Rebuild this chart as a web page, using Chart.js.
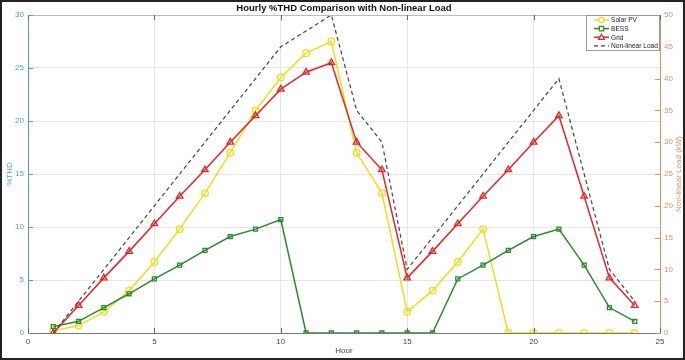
<!DOCTYPE html>
<html>
<head>
<meta charset="utf-8">
<script src="https://cdn.jsdelivr.net/npm/chart.js@4.4.1/dist/chart.umd.min.js"></script>
<style>
  html, body { margin: 0; padding: 0; background: #fff; }
  #wrap { width: 685px; height: 360px; }
</style>
</head>
<body>
<div id="wrap"><canvas id="thdChart" width="685" height="360"></canvas></div>
<script>
// hours 1..24
const hours = [1, 2, 3, 4, 5, 6, 7, 8, 9, 10, 11, 12, 13, 14, 15, 16, 17, 18, 19, 20, 21, 22, 23, 24];

// %THD per source (left axis)
const solarPV = [0.2, 0.7, 2.0, 4.0, 6.7, 9.8, 13.2, 17.0, 21.0, 24.1, 26.4, 27.5, 17.0, 13.2, 2.0, 4.0, 6.7, 9.8, 0, 0, 0, 0, 0, 0];
const bess    = [0.6, 1.1, 2.4, 3.7, 5.1, 6.4, 7.8, 9.1, 9.8, 10.7, 0, 0, 0, 0, 0, 0, 5.1, 6.4, 7.8, 9.1, 9.8, 6.4, 2.4, 1.1];
const grid    = [0, 2.6, 5.2, 7.7, 10.3, 12.9, 15.4, 18.0, 20.5, 23.0, 24.6, 25.5, 18.0, 15.4, 5.2, 7.7, 10.3, 12.9, 15.4, 18.0, 20.5, 12.9, 5.2, 2.6];

// non-linear load in kW (right axis)
const load = [0, 5, 10, 15, 20, 25, 30, 35, 40, 45, 47.5, 50, 35, 30, 10, 15, 20, 25, 30, 35, 40, 25, 10, 5];

const thdTicks = [0, 5, 10, 15, 20, 25, 30];
const loadTicks = [0, 5, 10, 15, 20, 25, 30, 35, 40, 45, 50];
const hourTicks = [0, 5, 10, 15, 20, 25];

const leftColor = '#4f9dc0';
const rightColor = '#d9925a';
const FONT = 'Liberation Sans, Arial, sans-serif';

const pts = arr => hours.map((h, i) => ({ x: h, y: arr[i] }));

const series = [
  { label: 'Solar PV', data: solarPV, color: '#f0dc1e', style: 'circle', r: 3.3 },
  { label: 'BESS', data: bess, color: '#2a8a2a', style: 'rect', r: 2.8 },
  { label: 'Grid', data: grid, color: '#e32626', style: 'triangle', r: 3.8 }
];

const datasets = series.map((s, i) => ({
  label: s.label,
  data: pts(s.data),
  yAxisID: 'y',
  borderColor: s.color,
  backgroundColor: s.color,
  borderWidth: 1.5,
  pointStyle: s.style,
  pointRadius: s.r,
  pointBorderWidth: 1.3,
  pointBorderColor: s.color,
  pointBackgroundColor: 'rgba(0,0,0,0)',
  order: 4 - i
}));
datasets.push({
  label: 'Non-linear Load',
  data: pts(load),
  yAxisID: 'y1',
  borderColor: '#444',
  borderWidth: 1.2,
  borderDash: [4, 3],
  pointRadius: 0,
  order: 0
});

// extras: frame, title, legend, right title, inward ticks
const decor = {
  id: 'decor',
  beforeDraw(chart) {
    const c = chart.ctx;
    c.save();
    c.fillStyle = '#fff';
    c.fillRect(0, 0, chart.width, chart.height);
    c.restore();
  },
  afterDraw(chart) {
    const c = chart.ctx;
    const a = chart.chartArea;
    const sx = chart.scales.x, sy = chart.scales.y, sy1 = chart.scales.y1;
    c.save();

    // top box line
    c.strokeStyle = '#bbb';
    c.lineWidth = 1;
    c.beginPath();
    c.moveTo(a.left, a.top + 0.5);
    c.lineTo(a.right, a.top + 0.5);
    c.stroke();

    // inward ticks
    c.strokeStyle = '#666';
    hourTicks.forEach(v => {
      const px = Math.round(sx.getPixelForValue(v)) + 0.5;
      c.beginPath();
      c.moveTo(px, a.bottom); c.lineTo(px, a.bottom - 5);
      c.moveTo(px, a.top); c.lineTo(px, a.top + 5);
      c.stroke();
    });
    c.strokeStyle = leftColor;
    thdTicks.forEach(v => {
      const py = Math.round(sy.getPixelForValue(v)) + 0.5;
      c.beginPath(); c.moveTo(a.left, py); c.lineTo(a.left + 5, py); c.stroke();
    });
    c.strokeStyle = rightColor;
    loadTicks.forEach(v => {
      const py = Math.round(sy1.getPixelForValue(v)) + 0.5;
      c.beginPath(); c.moveTo(a.right, py); c.lineTo(a.right - 5, py); c.stroke();
    });

    // title
    c.fillStyle = '#111';
    c.font = 'bold 9.5px ' + FONT;
    c.textAlign = 'center';
    c.textBaseline = 'middle';
    c.fillText('Hourly %THD Comparison with Non-linear Load', (a.left + a.right) / 2, 8);

    // right axis title, reading bottom to top
    c.save();
    c.translate(679, (a.top + a.bottom) / 2);
    c.rotate(-Math.PI / 2);
    c.fillStyle = rightColor;
    c.font = '8px ' + FONT;
    c.fillText('Non-linear Load (kW)', 0, 0);
    c.restore();

    // legend
    const lx = 586, ly = a.top, lw = a.right - 586, lh = 36;
    c.fillStyle = '#fff';
    c.fillRect(lx, ly, lw, lh);
    c.strokeStyle = '#999';
    c.lineWidth = 1;
    c.strokeRect(lx + 0.5, ly + 0.5, lw - 1, lh - 1);
    c.font = '6.6px ' + FONT;
    c.textAlign = 'left';
    datasets.forEach((ds, i) => {
      const y = ly + 5 + i * 8.6;
      c.strokeStyle = ds.borderColor;
      c.lineWidth = ds.borderWidth;
      c.setLineDash(ds.borderDash || []);
      c.beginPath(); c.moveTo(594, y); c.lineTo(609, y); c.stroke();
      c.setLineDash([]);
      if (ds.pointRadius) {
        c.lineWidth = 1.2;
        const r = 2.6;
        c.beginPath();
        if (ds.pointStyle === 'circle') c.arc(601.5, y, r, 0, Math.PI * 2);
        else if (ds.pointStyle === 'rect') c.rect(601.5 - 2.2, y - 2.2, 4.4, 4.4);
        else { c.moveTo(601.5, y - 3); c.lineTo(604.5, y + 2.2); c.lineTo(598.5, y + 2.2); c.closePath(); }
        c.fillStyle = '#fff';
        c.fill();
        c.stroke();
      }
      c.fillStyle = '#222';
      c.fillText(ds.label, 611, y + 0.5);
    });

    // figure frame
    c.strokeStyle = '#222';
    c.lineWidth = 2;
    c.strokeRect(1, 1, chart.width - 2, chart.height - 2);
    c.restore();
  }
};

const ctx = document.getElementById('thdChart').getContext('2d');
const thdChart = new Chart(ctx, {
  type: 'line',
  data: { datasets: datasets },
  options: {
    responsive: false,
    animation: false,
    layout: { padding: { top: 15, left: 0, right: 0, bottom: 0 } },
    plugins: {
      legend: { display: false },
      title: { display: false },
      tooltip: { enabled: false }
    },
    scales: {
      x: {
        type: 'linear',
        min: 0, max: 25,
        afterBuildTicks: s => { s.ticks = hourTicks.map(v => ({ value: v })); },
        afterFit: s => { s.height = 27; },
        ticks: { color: '#444', font: { family: FONT, size: 8 }, padding: 4, maxRotation: 0 },
        grid: { color: '#e6e6e6', drawTicks: false },
        border: { color: '#777' },
        title: { display: true, text: 'Hour', color: '#444', font: { family: FONT, size: 8 }, padding: { top: 0, bottom: 4 } }
      },
      y: {
        position: 'left',
        min: 0, max: 30,
        afterBuildTicks: s => { s.ticks = thdTicks.map(v => ({ value: v })); },
        afterFit: s => { s.width = 28; },
        ticks: { color: leftColor, font: { family: FONT, size: 8 }, padding: 4 },
        grid: { color: '#e6e6e6', drawTicks: false },
        border: { color: leftColor },
        title: { display: true, text: '%THD', color: leftColor, font: { family: FONT, size: 8 }, padding: { top: 5, bottom: 0 } }
      },
      y1: {
        position: 'right',
        min: 0, max: 50,
        afterBuildTicks: s => { s.ticks = loadTicks.map(v => ({ value: v })); },
        afterFit: s => { s.width = 25; },
        ticks: { color: rightColor, font: { family: FONT, size: 8 }, padding: 4 },
        grid: { drawOnChartArea: false, drawTicks: false },
        border: { color: rightColor }
      }
    }
  },
  plugins: [decor]
});
</script>
</body>
</html>
